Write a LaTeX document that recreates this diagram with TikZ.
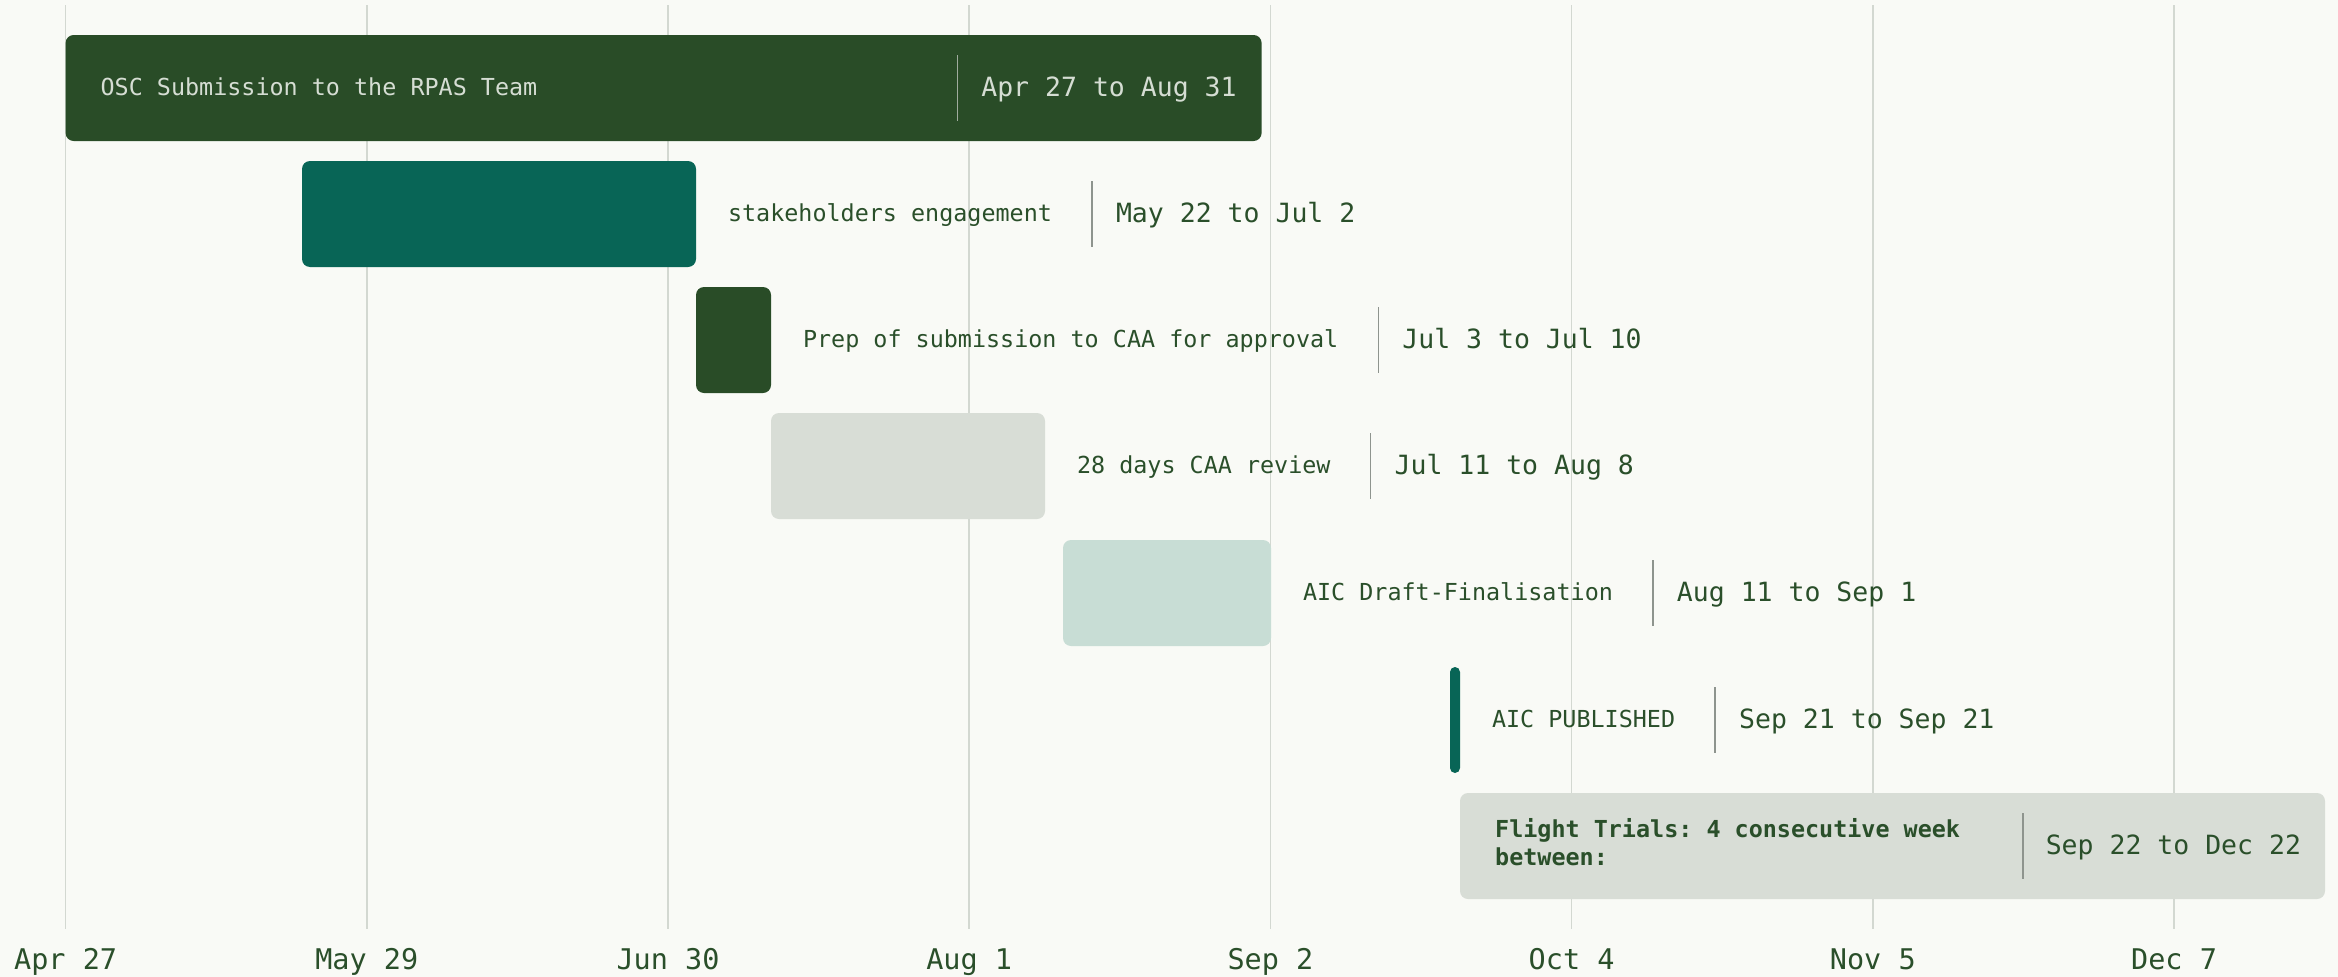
\documentclass[tikz,border=0pt]{standalone}
\usepackage{fontspec}
\setmonofont{DejaVu Sans Mono}
\definecolor{bgc}{HTML}{F9FAF6}
\definecolor{gridc}{HTML}{D3D8D1}
\definecolor{dkgreen}{HTML}{294C27}
\definecolor{teal}{HTML}{086556}
\definecolor{lgray}{HTML}{D8DDD6}
\definecolor{lteal}{HTML}{C8DDD5}
\definecolor{txt}{HTML}{2A4F2A}
\definecolor{lighttxt}{HTML}{D5DDD3}
\definecolor{divc}{HTML}{8E948E}
\definecolor{divin}{HTML}{A0AC9E}
\begin{document}
\begin{tikzpicture}[x=1pt,y=-1pt,
  bar/.style={draw=none, rounded corners=8pt, minimum height=106pt, inner sep=0pt, outer sep=0pt, anchor=north west},
  lbl/.style={font=\ttfamily\fontsize{23.4}{28}\selectfont, text=txt, inner sep=0pt, outer sep=0pt, anchor=west, text height=17pt, text depth=0pt, yshift=1.5pt},
  dt/.style={font=\ttfamily\fontsize{26.5}{30}\selectfont, text=txt, inner sep=0pt, outer sep=0pt, anchor=west, text height=19.3pt, text depth=0pt, yshift=1.5pt},
  ax/.style={font=\ttfamily\fontsize{28.5}{32}\selectfont, text=txt, inner sep=0pt, text height=20.8pt, text depth=0pt},
  sep/.style={draw=divc, line width=1.5pt},
  gridline/.style={draw=gridc, line width=1.6pt}]
\fill[bgc] (0,0) rectangle (2338,977);
\useasboundingbox (0,0) rectangle (2338,977);
% grid
\foreach \i/\lab in {0/Apr 27,1/May 29,2/Jun 30,3/Aug 1,4/Sep 2,5/Oct 4,6/Nov 5,7/Dec 7}{
  \coordinate (gt\i) at (65.6+301.2*\i,5);
  \coordinate (gb\i) at (65.6+301.2*\i,929);
  \draw[gridline] (gt\i) -- (gb\i);
  \node[ax] (ax\i) at (65.6+301.2*\i,959) {\lab};
}
% bars
\node[bar, fill=dkgreen, minimum width=1196pt] (b1) at (65.6,35) {};
\node[bar, fill=teal, minimum width=394pt] (b2) at (302,161) {};
\node[bar, fill=dkgreen, minimum width=75pt] (b3) at (696,287) {};
\node[bar, fill=lgray, minimum width=274pt] (b4) at (771,413) {};
\node[bar, fill=lteal, minimum width=208pt] (b5) at (1063,540) {};
\node[bar, fill=teal, minimum width=10pt, rounded corners=5pt] (b6) at (1450,667) {};
\node[bar, fill=lgray, minimum width=865pt] (b7) at (1460,793) {};
% row 1
\node[lbl, text=lighttxt] (l1) at ([xshift=35pt]b1.west) {OSC Submission to the RPAS Team};
\node[dt, text=lighttxt, anchor=east] (d1) at ([xshift=-25pt]b1.east) {Apr 27 to Aug 31};
\coordinate (s1) at ([xshift=-24pt]b1.east -| d1.west);
\draw[sep, draw=divin] ([yshift=33pt]s1) -- ([yshift=-33pt]s1);
% rows 2-6
\foreach \b/\l/\d in {2/stakeholders engagement/May 22 to Jul 2,
                      3/Prep of submission to CAA for approval/Jul 3 to Jul 10,
                      4/28 days CAA review/Jul 11 to Aug 8,
                      5/AIC Draft-Finalisation/Aug 11 to Sep 1,
                      6/AIC PUBLISHED/Sep 21 to Sep 21}{
  \node[lbl] (l\b) at ([xshift=32pt]b\b.east) {\l};
  \coordinate (s\b) at ([xshift=40pt]b\b.east -| l\b.east);
  \draw[sep] ([yshift=33pt]s\b) -- ([yshift=-33pt]s\b);
  \node[dt] (d\b) at ([xshift=24pt]s\b) {\d};
}
% row 7
\node[font=\ttfamily\bfseries\fontsize{23.4}{28}\selectfont, text=txt, inner sep=0pt, anchor=west, align=left, yshift=4pt] (l7) at ([xshift=35pt]b7.west) {Flight Trials: 4 consecutive week\\between:};
\node[dt, anchor=east] (d7) at ([xshift=-24pt]b7.east) {Sep 22 to Dec 22};
\coordinate (s7) at ([xshift=-23pt]b7.east -| d7.west);
\draw[sep] ([yshift=33pt]s7) -- ([yshift=-33pt]s7);
\end{tikzpicture}
\end{document}
